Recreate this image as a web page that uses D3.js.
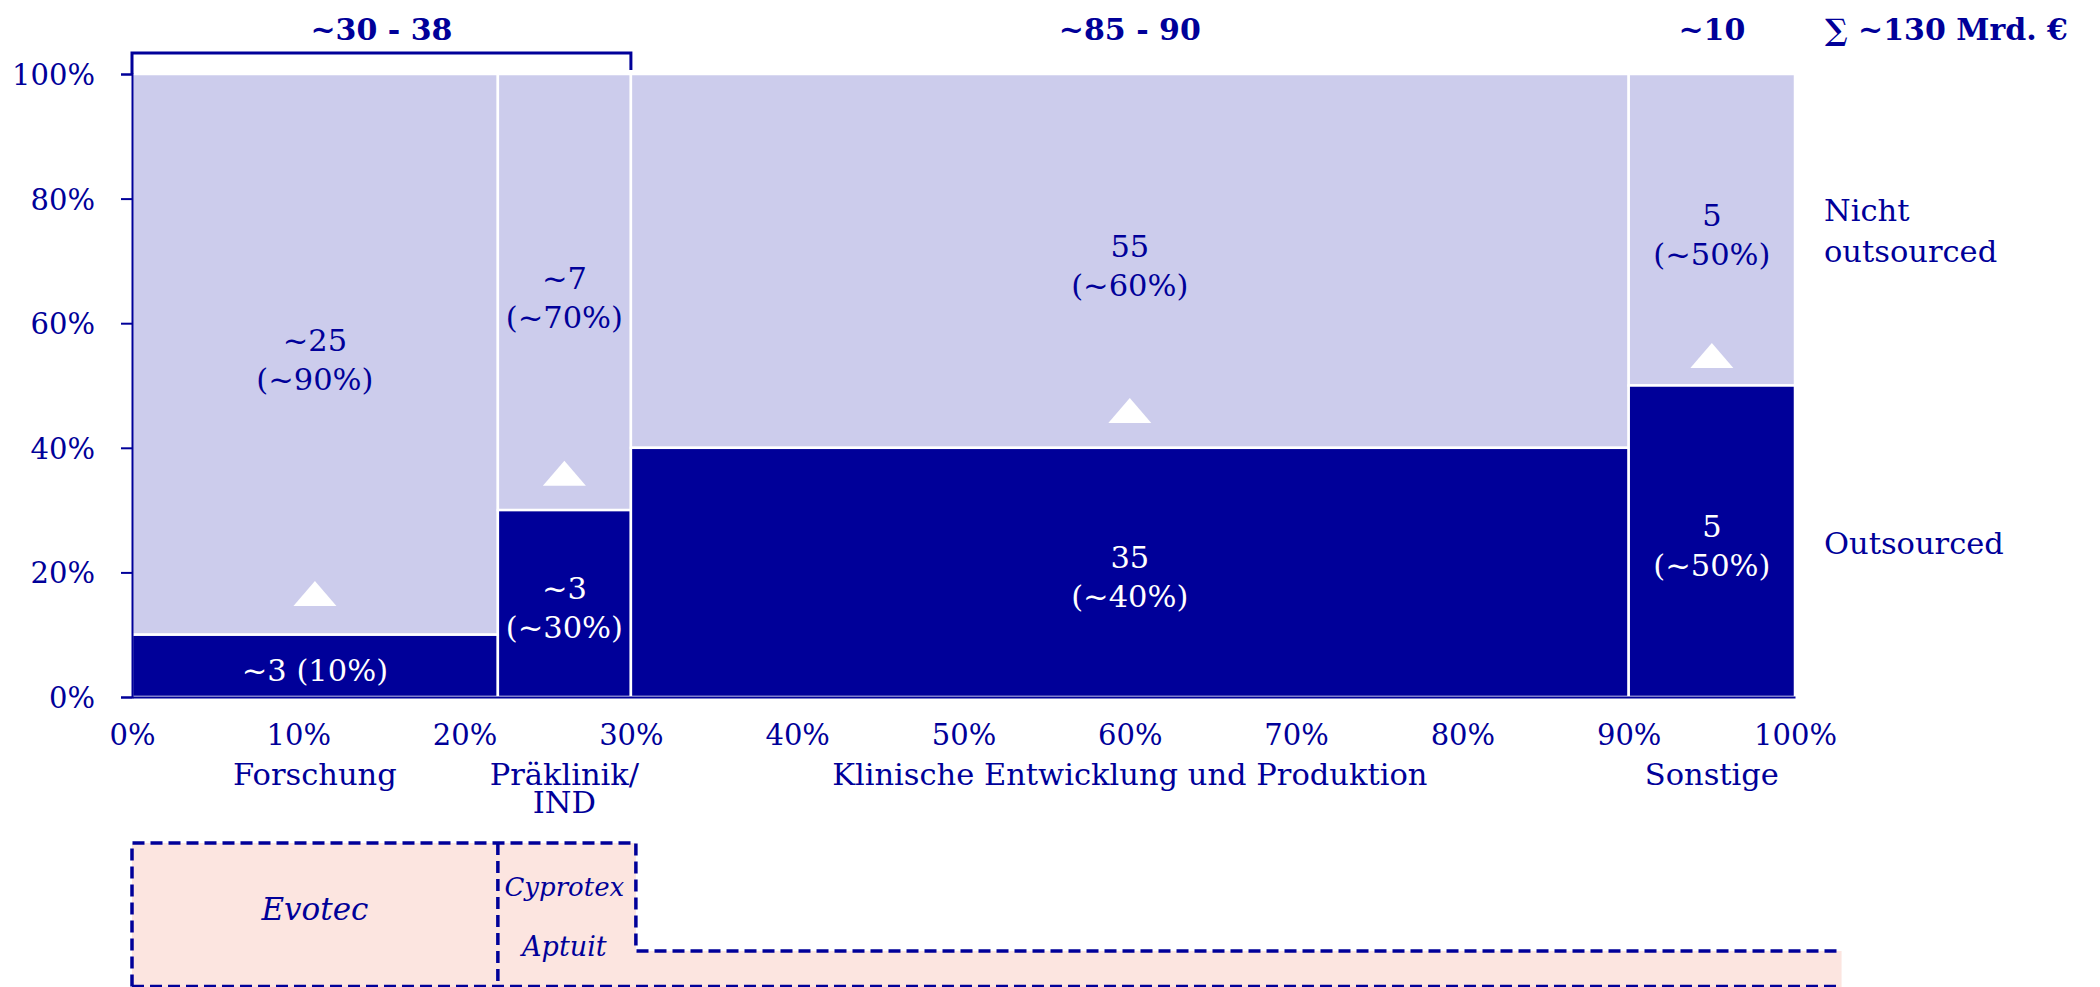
<!DOCTYPE html>
<html>
<head>
<meta charset="utf-8">
<script src="https://cdn.jsdelivr.net/npm/d3@7"></script>
<style>
  html, body { margin: 0; padding: 0; background: #ffffff; }
  svg { display: block; }
</style>
</head>
<body>
<svg id="chart" width="2100" height="987"></svg>
<script>
// ---------------- DATA ----------------
const categories = [["Forschung"], ["Präklinik/", "IND"], ["Klinische Entwicklung und Produktion"], ["Sonstige"]];
const marketShare = [22, 8, 60, 10];            // width of each column, % of total market
const outsourcedShare = [10, 30, 40, 50];       // % outsourced within each column
const outsourcedLabels = [["~3 (10%)"], ["~3", "(~30%)"], ["35", "(~40%)"], ["5", "(~50%)"]];
const notOutsourcedLabels = [["~25", "(~90%)"], ["~7", "(~70%)"], ["55", "(~60%)"], ["5", "(~50%)"]];
const markerShare = [14.6, 33.9, 44, 52.8];     // white triangle markers (base level, %)
const groupLabels = ["~30 - 38", "~85 - 90", "~10"];
const groupStart = [0, 30, 90];
const groupEnd = [30, 90, 100];
const totalLabel = "\u2211 ~130 Mrd. \u20AC";
const seriesNames = [["Nicht", "outsourced"], ["Outsourced"]];
const xTicks = [0, 10, 20, 30, 40, 50, 60, 70, 80, 90, 100];
const yTicks = [0, 20, 40, 60, 80, 100];
const partnerNames = ["Evotec", "Cyprotex", "Aptuit"];
const partnerColumn = [0, 1, 1];
const coverageHighEnd = 30.3;   // x-extent (%) of the partner boxes
const coverageLowEnd = 102.8;   // x-extent (%) of the lower coverage band

// ---------------- STYLE ----------------
const NAVY = "#000099";
const LIGHT = "#ccccec";
const PINK = "#fce5e0";
const FONT = "'DejaVu Serif', Georgia, serif";
const TXT = 30.5;

const svg = d3.select("#chart");
const x = d3.scaleLinear().domain([0, 100]).range([132, 1795]);
const y = d3.scaleLinear().domain([0, 100]).range([697, 74]);

let acc = 0;
const starts = marketShare.map(w => { const s = acc; acc += w; return s; });
const cols = categories.map((c, i) => ({
  i, name: c, start: starts[i], end: starts[i] + marketShare[i], out: outsourcedShare[i]
}));

// ---------------- BARS ----------------
const gBars = svg.append("g");
gBars.selectAll("rect.light").data(cols).join("rect")
  .attr("class", "light")
  .attr("x", d => x(d.start)).attr("y", y(100))
  .attr("width", d => x(d.end) - x(d.start))
  .attr("height", d => y(d.out) - y(100))
  .attr("fill", LIGHT).attr("stroke", "#fff").attr("stroke-width", 2.5);
gBars.selectAll("rect.dark").data(cols).join("rect")
  .attr("class", "dark")
  .attr("x", d => x(d.start)).attr("y", d => y(d.out))
  .attr("width", d => x(d.end) - x(d.start))
  .attr("height", d => y(0) - y(d.out))
  .attr("fill", NAVY).attr("stroke", "#fff").attr("stroke-width", 2.5);

// triangles
gBars.selectAll("path.tri").data(cols).join("path")
  .attr("class", "tri")
  .attr("d", d => {
    const cx = x((d.start + d.end) / 2), yb = y(markerShare[d.i]);
    return `M${cx - 21.5},${yb}L${cx + 21.5},${yb}L${cx},${yb - 25}Z`;
  })
  .attr("fill", "#fff");

// segment labels
function segLabel(lines, cx, cy, color, spacing, anchor) {
  const n = lines.length;
  lines.forEach((t, k) => {
    const lc = cy + (k - (n - 1) / 2) * spacing;
    svg.append("text")
      .attr("x", cx).attr("y", lc + 11)
      .attr("text-anchor", anchor || "middle")
      .attr("font-family", FONT).attr("font-size", TXT)
      .attr("fill", color).text(t);
  });
}
cols.forEach(d => {
  const cx = x((d.start + d.end) / 2);
  segLabel(notOutsourcedLabels[d.i], cx, y((d.out + 100) / 2) + 5, NAVY, 39);
  segLabel(outsourcedLabels[d.i], cx, y(d.out / 2) + 4, "#fff", 39);
});

// ---------------- AXES ----------------
const yAxis = svg.append("g").attr("transform", `translate(${x(0)},0)`)
  .call(d3.axisLeft(y).tickValues(yTicks).tickFormat(d => d + "%").tickSize(11).tickPadding(26));
const xAxis = svg.append("g").attr("transform", `translate(0,${y(0)})`)
  .call(d3.axisBottom(x).tickValues(xTicks).tickFormat(d => d + "%").tickSizeInner(0).tickSizeOuter(0).tickPadding(27));
[yAxis, xAxis].forEach(g => {
  g.attr("font-family", null).attr("font-size", null);
  g.selectAll("path.domain").attr("stroke", NAVY).attr("stroke-width", 2);
  g.selectAll(".tick line").attr("stroke", NAVY).attr("stroke-width", 2);
  g.selectAll(".tick text").attr("fill", NAVY).attr("font-family", FONT).attr("font-size", 29);
});
yAxis.selectAll(".tick text").attr("dy", "0.36em");

// category labels
cols.forEach(d => {
  d.name.forEach((t, k) => {
    svg.append("text")
      .attr("x", x((d.start + d.end) / 2)).attr("y", 785 + k * 28)
      .attr("text-anchor", "middle")
      .attr("font-family", FONT).attr("font-size", TXT)
      .attr("fill", NAVY).text(t);
  });
});

// ---------------- TOP GROUP LABELS ----------------
groupLabels.forEach((t, i) => {
  svg.append("text")
    .attr("x", x((groupStart[i] + groupEnd[i]) / 2)).attr("y", 40)
    .attr("text-anchor", "middle")
    .attr("font-family", FONT).attr("font-size", 30).attr("font-weight", "bold")
    .attr("fill", NAVY).text(t);
});
svg.append("text")
  .attr("x", x(100) + 30).attr("y", 40)
  .attr("font-family", FONT).attr("font-size", 30).attr("font-weight", "bold")
  .attr("fill", NAVY).text(totalLabel);

// bracket over first group
svg.append("path")
  .attr("d", `M${x(groupStart[0])},${y(100)}V53H${x(groupEnd[0])}V70`)
  .attr("fill", "none").attr("stroke", NAVY).attr("stroke-width", 3);

// ---------------- SERIES NAMES ----------------
const last = cols[cols.length - 1];
segLabel(seriesNames[0], x(100) + 29, y((last.out + 100) / 2) + 1, NAVY, 41, "start");
segLabel(seriesNames[1], x(100) + 29, y(last.out / 2) + 2, NAVY, 41, "start");

// ---------------- PARTNER BOXES ----------------
const boxTop = 843, stepY = 951, boxBottom = 986.5;
svg.append("path")
  .attr("d", `M${x(0)},${boxTop}H${x(coverageHighEnd)}V${stepY}H${x(coverageLowEnd)}V987H${x(0)}Z`)
  .attr("fill", PINK);
const dash = { stroke: NAVY, "stroke-width": 3.5, "stroke-dasharray": "12,6", fill: "none" };
function dashed(d) {
  const p = svg.append("path").attr("d", d);
  Object.entries(dash).forEach(([k, v]) => p.attr(k, v));
}
dashed(`M${x(0)},${boxBottom}V${boxTop}H${x(coverageHighEnd)}V${stepY}H${x(coverageLowEnd) - 5}`);
dashed(`M${x(starts[1])},${boxTop}V${boxBottom}`);
dashed(`M${x(0)},${boxBottom}H${x(coverageLowEnd)}`);

const partnerY = [920, 896, 956];
const partnerSize = [31, 26, 27];
partnerNames.forEach((t, i) => {
  const c = cols[partnerColumn[i]];
  svg.append("text")
    .attr("x", x((c.start + c.end) / 2)).attr("y", partnerY[i])
    .attr("text-anchor", "middle")
    .attr("font-family", FONT).attr("font-size", partnerSize[i]).attr("font-style", "italic")
    .attr("fill", NAVY).text(t);
});
</script>
</body>
</html>
